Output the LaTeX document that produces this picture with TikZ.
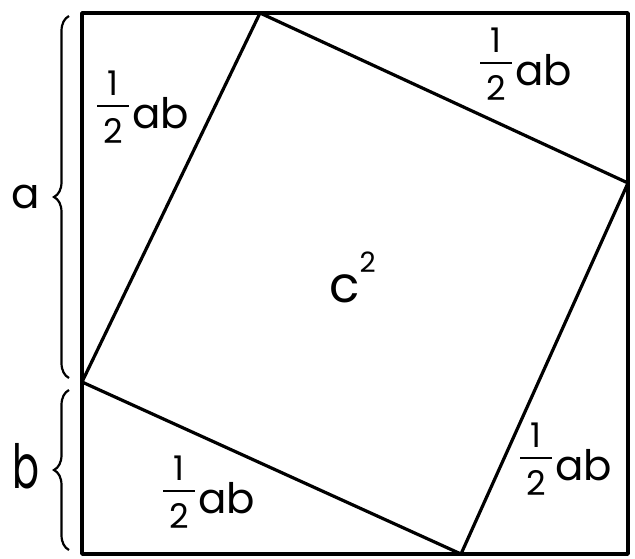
\documentclass[tikz,border=0pt]{standalone}
\usepackage{graphicx}
\usepackage{fontspec}
\setmainfont{Poppins}
\usetikzlibrary{decorations.pathreplacing}
\newcommand{\dg}[1]{\hbox to 32pt{\hss\fontsize{34}{34}\selectfont #1\hss}}
\newcommand{\frachalf}{\raisebox{-15pt}{\vbox{\dg{1}\kern10pt\hrule height 1.8pt\kern11pt\dg{2}}}}
\newcommand{\halfab}{\frachalf\kern3pt ab}
\tikzset{
  frame/.style={line width=3.5pt, line join=round},
  tilt/.style={line width=3.2pt, line join=round},
  lbl/.style={font=\fontsize{42}{46}\selectfont, inner sep=0pt, anchor=base},
  bracestyle/.style={line width=2.2pt, decorate, decoration={brace, amplitude=15pt, mirror, aspect=0.5}}
}
\begin{document}
\begin{tikzpicture}[x=1pt,y=-1pt]
\useasboundingbox (0,0) rectangle (635,558);
% outer square corners
\coordinate (TL) at (82,13);
\coordinate (TR) at (628,13);
\coordinate (BR) at (628,554);
\coordinate (BL) at (82,554);
% inner square vertices
\coordinate (P) at (260,13);
\coordinate (Q) at (628,183);
\coordinate (R) at (461,554);
\coordinate (S) at (82,382);
\draw[frame] (TL) -- (TR) -- (BR) -- (BL) -- cycle;
\draw[tilt] (P) -- (Q) -- (R) -- (S) -- cycle;
% braces
\coordinate (a1) at (69,16);
\coordinate (a2) at (69,378);
\coordinate (b1) at (69,390);
\coordinate (b2) at (69,550);
\draw[bracestyle] (a1) -- (a2);
\draw[bracestyle] (b1) -- (b2);
% labels
\node[lbl] (la) at (26,208) {a};
\node[lbl] (lb) at (26,488) {\scalebox{0.95}[1.45]{b}};
\node[lbl] (t1) at (143,128) {\halfab};
\node[lbl] (t2) at (526,85) {\halfab};
\node[lbl] (t3) at (209,513) {\halfab};
\node[lbl] (t4) at (566,480) {\halfab};
\node[lbl, anchor=base west] (c2) at (329,302) {{\fontsize{50}{52}\selectfont c}\raisebox{30pt}{\fontsize{28}{28}\selectfont 2}};
\end{tikzpicture}
\end{document}
